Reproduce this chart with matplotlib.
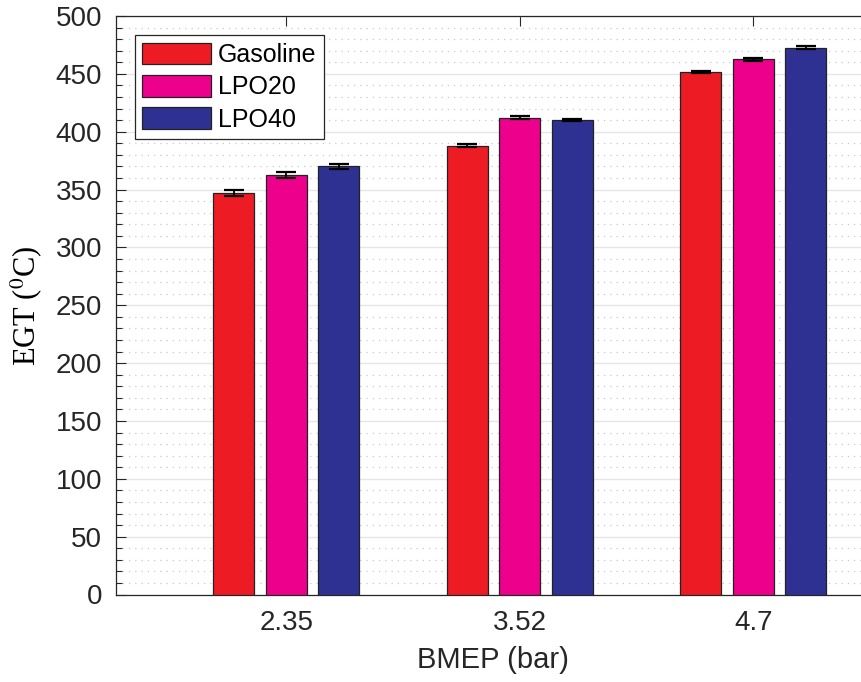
import numpy as np
import matplotlib.pyplot as plt
from matplotlib.ticker import MultipleLocator

# values
bmep_labels = ['2.35', '3.52', '4.7']
fuels = ['Gasoline', 'LPO20', 'LPO40']
egt_gasoline = [347, 388, 451.5]
egt_lpo20 = [362.5, 412, 462.5]
egt_lpo40 = [370, 410, 472.5]
err_gasoline = [2.5, 1.0, 1.0]
err_lpo20 = [2.3, 1.2, 1.5]
err_lpo40 = [2.0, 1.0, 1.2]

colors = ['#ED1C24', '#EC008C', '#2E3192']

plt.rcParams['font.family'] = ['Liberation Sans', 'DejaVu Sans']
plt.rcParams['mathtext.fontset'] = 'stix'

fig = plt.figure(figsize=(8.61, 6.82), dpi=100)
# right edge of axes runs slightly past the figure, as in the reference
ax = fig.add_axes([116 / 861, 87.5 / 682, (870 - 116) / 861, 578.5 / 682])

x = np.arange(1, len(bmep_labels) + 1)
width = 0.176
offsets = [-0.225, 0.0, 0.225]
series = [egt_gasoline, egt_lpo20, egt_lpo40]
errors = [err_gasoline, err_lpo20, err_lpo40]

for i in range(3):
    ax.bar(x + offsets[i], series[i], width, color=colors[i], edgecolor='#222222',
           linewidth=0.9, label=fuels[i], zorder=3)
    ax.errorbar(x + offsets[i], series[i], yerr=errors[i], fmt='none', ecolor='black',
                elinewidth=1.3, capsize=7, capthick=1.6, zorder=4)

ax.set_xlim(0.27, 3.5)
ax.set_ylim(0, 500)
ax.set_xticks(x)
ax.set_xticklabels(bmep_labels)
ax.yaxis.set_major_locator(MultipleLocator(50))
ax.yaxis.set_minor_locator(MultipleLocator(10))

ax.grid(which='major', axis='y', color='#e6e6e6', linewidth=1.0, zorder=0)
ax.grid(which='minor', axis='y', color='#c8c8c8', linestyle=(0, (1, 4)), linewidth=0.9, zorder=0)
ax.set_axisbelow(True)

ax.tick_params(axis='both', which='both', direction='in', colors='#262626',
               labelcolor='#262626', labelsize=20, top=True)
ax.tick_params(axis='y', which='major', length=7, width=0.8, pad=10)
ax.tick_params(axis='y', which='minor', length=4, width=0.8)
ax.tick_params(axis='x', which='major', length=7, width=0.8, pad=11)
for s in ax.spines.values():
    s.set_color('#262626')
    s.set_linewidth(0.9)

ax.set_xlabel('BMEP (bar)', fontsize=21, color='#262626', labelpad=7)
ax.set_ylabel('EGT ($^{0}$C)', fontsize=22, family='Liberation Serif', color='black', labelpad=8)

leg = ax.legend(loc='upper left', bbox_to_anchor=(0.025, 0.967), fontsize=18,
                handlelength=2.76, handleheight=0.96, labelspacing=0.32,
                handletextpad=0.25, borderpad=0.3, borderaxespad=0.0,
                fancybox=False, framealpha=1.0, edgecolor='#262626')
leg.get_frame().set_linewidth(0.9)

fig.savefig('out.png', dpi=100)
